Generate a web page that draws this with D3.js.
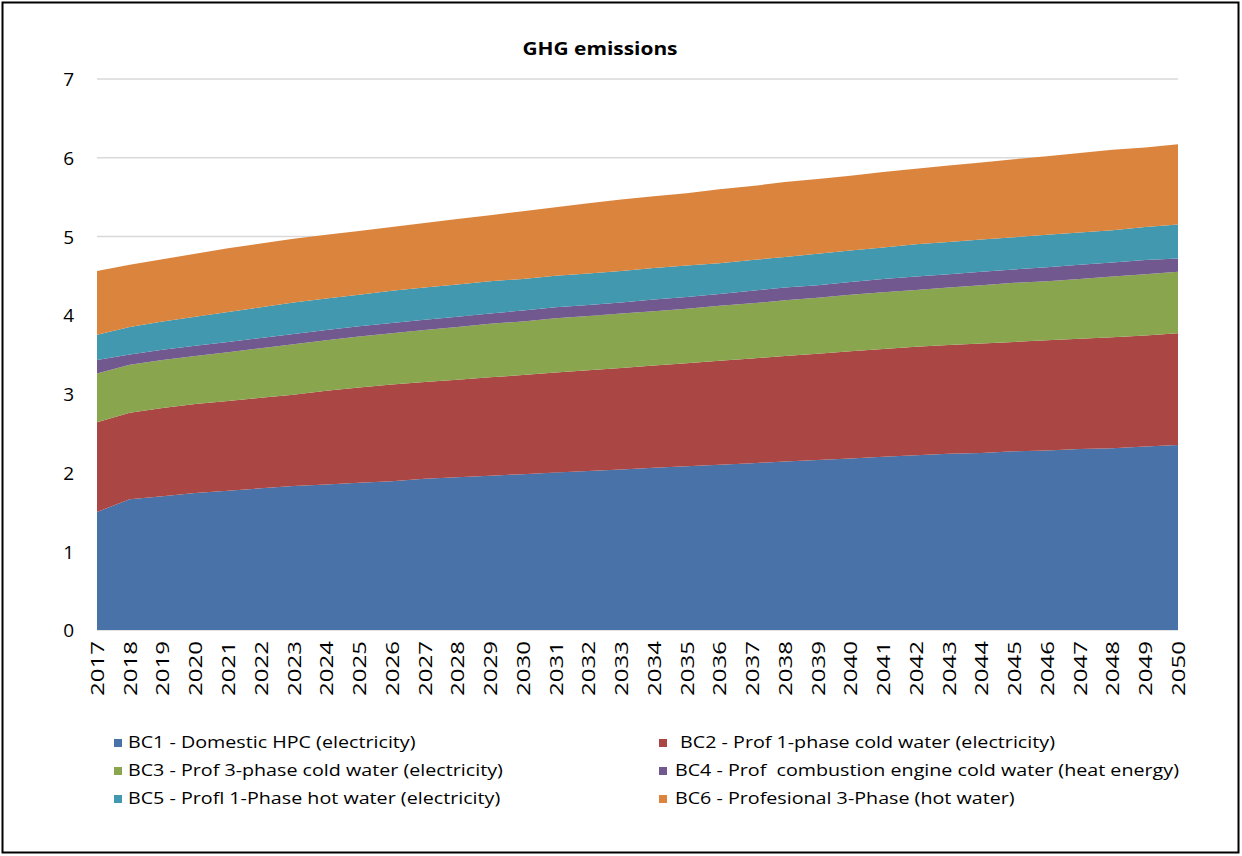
<!DOCTYPE html>
<html>
<head>
<meta charset="utf-8">
<script src="https://cdn.jsdelivr.net/npm/d3@7"></script>
<style>
  html, body { margin: 0; padding: 0; background: #fff; }
  svg { display: block; }
  text { font-family: "Open Sans", "Noto Sans", sans-serif; fill: #000; }
</style>
</head>
<body>
<svg id="chart" width="1242" height="856"></svg>
<script>
const years = [2017,2018,2019,2020,2021,2022,2023,2024,2025,2026,2027,2028,2029,2030,2031,2032,2033,2034,2035,2036,2037,2038,2039,2040,2041,2042,2043,2044,2045,2046,2047,2048,2049,2050];

const bc1 = [1.50,1.66,1.70,1.74,1.77,1.80,1.83,1.85,1.87,1.89,1.92,1.94,1.96,1.98,2.00,2.02,2.04,2.06,2.08,2.10,2.12,2.14,2.16,2.18,2.20,2.22,2.24,2.25,2.27,2.28,2.30,2.31,2.33,2.35];
const bc2 = [1.14,1.10,1.12,1.13,1.14,1.15,1.16,1.19,1.21,1.23,1.23,1.24,1.25,1.26,1.27,1.28,1.29,1.30,1.31,1.32,1.33,1.34,1.35,1.36,1.37,1.38,1.38,1.39,1.39,1.40,1.40,1.41,1.41,1.42];
const bc3 = [0.62,0.61,0.61,0.61,0.62,0.63,0.64,0.64,0.65,0.65,0.66,0.67,0.68,0.68,0.69,0.69,0.69,0.69,0.69,0.70,0.70,0.71,0.71,0.72,0.72,0.72,0.73,0.74,0.75,0.75,0.76,0.77,0.78,0.78];
const bc4 = [0.17,0.13,0.13,0.13,0.13,0.13,0.13,0.13,0.13,0.13,0.13,0.13,0.13,0.14,0.14,0.14,0.14,0.15,0.15,0.15,0.16,0.16,0.16,0.16,0.17,0.17,0.17,0.17,0.17,0.18,0.18,0.18,0.18,0.17];
const bc5 = [0.32,0.35,0.36,0.37,0.38,0.39,0.40,0.40,0.40,0.41,0.41,0.41,0.41,0.40,0.40,0.40,0.40,0.40,0.40,0.39,0.39,0.39,0.40,0.40,0.40,0.41,0.41,0.41,0.41,0.41,0.41,0.41,0.42,0.43];
const bc6 = [0.81,0.79,0.79,0.80,0.81,0.81,0.81,0.81,0.81,0.81,0.82,0.83,0.84,0.86,0.87,0.89,0.91,0.91,0.92,0.94,0.94,0.95,0.95,0.95,0.96,0.96,0.97,0.98,0.99,1.00,1.01,1.02,1.01,1.02];

const seriesNames = [
  "BC1 - Domestic HPC (electricity)",
  " BC2 - Prof 1-phase cold water (electricity)",
  "BC3 - Prof 3-phase cold water (electricity)",
  "BC4 - Prof  combustion engine cold water (heat energy)",
  "BC5 - Profl 1-Phase hot water (electricity)",
  "BC6 - Profesional 3-Phase (hot water)"
];
const seriesColors = ["#4872A8", "#AA4643", "#89A54E", "#71588F", "#4198AF", "#DB843D"];
const yTicks = [0,1,2,3,4,5,6,7];
const titleText = "GHG emissions";

const seriesValues = [bc1, bc2, bc3, bc4, bc5, bc6];
const keys = seriesNames.map((d, i) => "s" + i);
const table = years.map((y, j) => {
  const row = { year: y };
  seriesValues.forEach((arr, i) => { row[keys[i]] = arr[j]; });
  return row;
});

const svg = d3.select("#chart");

function widen(sel, factor) {
  sel.each(function () {
    const len = this.getComputedTextLength();
    d3.select(this).attr("textLength", len * factor).attr("lengthAdjust", "spacingAndGlyphs");
  });
}

// outer frame
svg.append("rect")
  .attr("x", 2.5).attr("y", 2.5)
  .attr("width", 1236).attr("height", 850)
  .attr("fill", "#fff").attr("stroke", "#000").attr("stroke-width", 2);

const x = d3.scalePoint().domain(years).range([97, 1178]);
const y = d3.scaleLinear().domain([0, 7]).range([630, 79]);

// gridlines
svg.append("g").selectAll("line").data(yTicks).join("line")
  .attr("x1", 97).attr("x2", 1178)
  .attr("y1", d => y(d)).attr("y2", d => y(d))
  .attr("stroke", "#d9d9d9").attr("stroke-width", 1.5);

// stacked areas
const stack = d3.stack().keys(keys);
const layers = stack(table);
const area = d3.area()
  .x(d => x(d.data.year))
  .y0(d => y(d[0]))
  .y1(d => y(d[1]));

svg.append("g").selectAll("path").data(layers).join("path")
  .attr("d", area)
  .attr("fill", (d, i) => seriesColors[i]);

// y axis labels
const yAxis = d3.axisLeft(y).tickValues(yTicks).tickSize(0).tickPadding(0).tickFormat(d3.format("d"));
const yg = svg.append("g").attr("transform", "translate(74,0)").call(yAxis);
yg.select(".domain").remove();
yg.selectAll("text")
  .attr("font-family", "Open Sans, sans-serif")
  .attr("font-size", 19)
  .attr("fill", "#000")
  .attr("dy", "0.36em");

// x axis labels (rotated)
const xAxis = d3.axisBottom(x).tickSize(0).tickPadding(0);
const xg = svg.append("g").attr("transform", "translate(0,641)").call(xAxis);
xg.select(".domain").remove();
xg.selectAll("text")
  .attr("font-family", "Open Sans, sans-serif")
  .attr("font-size", 18)
  .attr("fill", "#000")
  .attr("text-anchor", "end")
  .attr("transform", "rotate(-90)")
  .attr("x", 0).attr("y", 0)
  .attr("dy", "0.36em")
  .attr("textLength", 55)
  .attr("lengthAdjust", "spacingAndGlyphs");

// title
const title = svg.append("text")
  .attr("x", 600).attr("y", 55)
  .attr("text-anchor", "middle")
  .attr("font-size", 18)
  .attr("font-weight", "bold")
  .attr("fill", "#1a1a1a")
  .text(titleText);
widen(title, 1.16);

// legend
const legendCols = [114, 659];
const legendRows = [743, 771, 799];
const lg = svg.append("g").selectAll("g").data(seriesNames).join("g")
  .attr("transform", (d, i) => `translate(${legendCols[i % 2]},${legendRows[Math.floor(i / 2)]})`);
lg.append("rect")
  .attr("x", 0).attr("y", -4).attr("width", 8).attr("height", 8)
  .attr("fill", (d, i) => seriesColors[i]);
const lt = lg.append("text")
  .attr("x", (d, i) => i % 2 ? 16 : 14).attr("y", 0)
  .attr("dy", "0.35em")
  .attr("font-size", 15.5)
  .attr("fill", "#222")
  .attr("xml:space", "preserve")
  .style("white-space", "pre")
  .text(d => d);
widen(lt, 1.27);
</script>
</body>
</html>
